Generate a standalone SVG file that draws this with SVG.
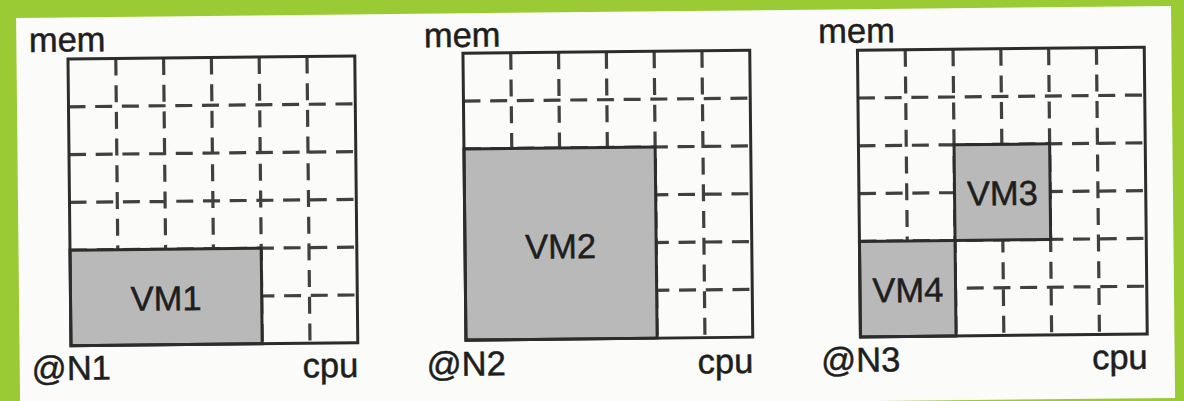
<svg xmlns="http://www.w3.org/2000/svg" xmlns:xlink="http://www.w3.org/1999/xlink" width="1184" height="401" viewBox="0 0 1184 401">
  <style>
    .dash { fill: none; stroke: #404040; stroke-width: 3.2; stroke-dasharray: 17 9.7; }
    .border { fill: none; stroke: #2c2c2c; stroke-width: 3; }
    .vm { fill: #b9b9b9; stroke: #2c2c2c; stroke-width: 3; }
    .lbl { font-family: "Liberation Sans", Arial, Helvetica, sans-serif; font-size: 34.5px; fill: #1e1e1e; stroke: #1e1e1e; stroke-width: 0.5; }
    .mid { text-anchor: middle; }
    .end { text-anchor: end; }
  </style>
  <defs>
    <g id="grid">
      <path class="dash" d="M47.8 0V286.8M95.6 0V286.8M143.4 0V286.8M191.2 0V286.8M239 0V286.8M0 47.8H286.8M0 95.6H286.8M0 143.4H286.8M0 191.2H286.8M0 239H286.8"/>
    </g>
  </defs>
  <rect x="0" y="0" width="1184" height="401" fill="#9acb34"/>
  <g transform="rotate(-0.6 592 200)">
    <rect x="18" y="12" width="1155" height="392" fill="#fbfbf9"/>

    <g id="n1" transform="translate(69.5 53.5)">
      <use xlink:href="#grid" href="#grid"/>
      <rect class="vm" x="0" y="191.2" width="191.2" height="95.6"/>
      <rect class="border" x="0" y="0" width="286.8" height="286.8"/>
      <text class="lbl mid" x="95.6" y="252.5">VM1</text>
      <text class="lbl" x="-39" y="-7.5">mem</text>
      <text class="lbl" x="-39.5" y="321">@N1</text>
      <text class="lbl end" x="287" y="321">cpu</text>
    </g>

    <g id="n2" transform="translate(464.5 52)">
      <use xlink:href="#grid" href="#grid"/>
      <rect class="vm" x="0" y="95.6" width="191.2" height="191.2"/>
      <rect class="border" x="0" y="0" width="286.8" height="286.8"/>
      <text class="lbl mid" x="95.6" y="206">VM2</text>
      <text class="lbl" x="-39" y="-6.5">mem</text>
      <text class="lbl" x="-39.5" y="322.5">@N2</text>
      <text class="lbl end" x="287" y="322.5">cpu</text>
    </g>

    <g id="n3" transform="translate(859 53)">
      <use xlink:href="#grid" href="#grid"/>
      <rect class="vm" x="95.6" y="95.6" width="95.6" height="95.6"/>
      <rect class="vm" x="0" y="191.2" width="95.6" height="95.6"/>
      <rect class="border" x="0" y="0" width="286.8" height="286.8"/>
      <text class="lbl mid" x="143.4" y="156.5">VM3</text>
      <text class="lbl mid" x="47.8" y="252.3">VM4</text>
      <text class="lbl" x="-39" y="-7.5">mem</text>
      <text class="lbl" x="-39.5" y="321.5">@N3</text>
      <text class="lbl end" x="287" y="321.5">cpu</text>
    </g>

    <g id="connectors"></g>
  </g>
</svg>
